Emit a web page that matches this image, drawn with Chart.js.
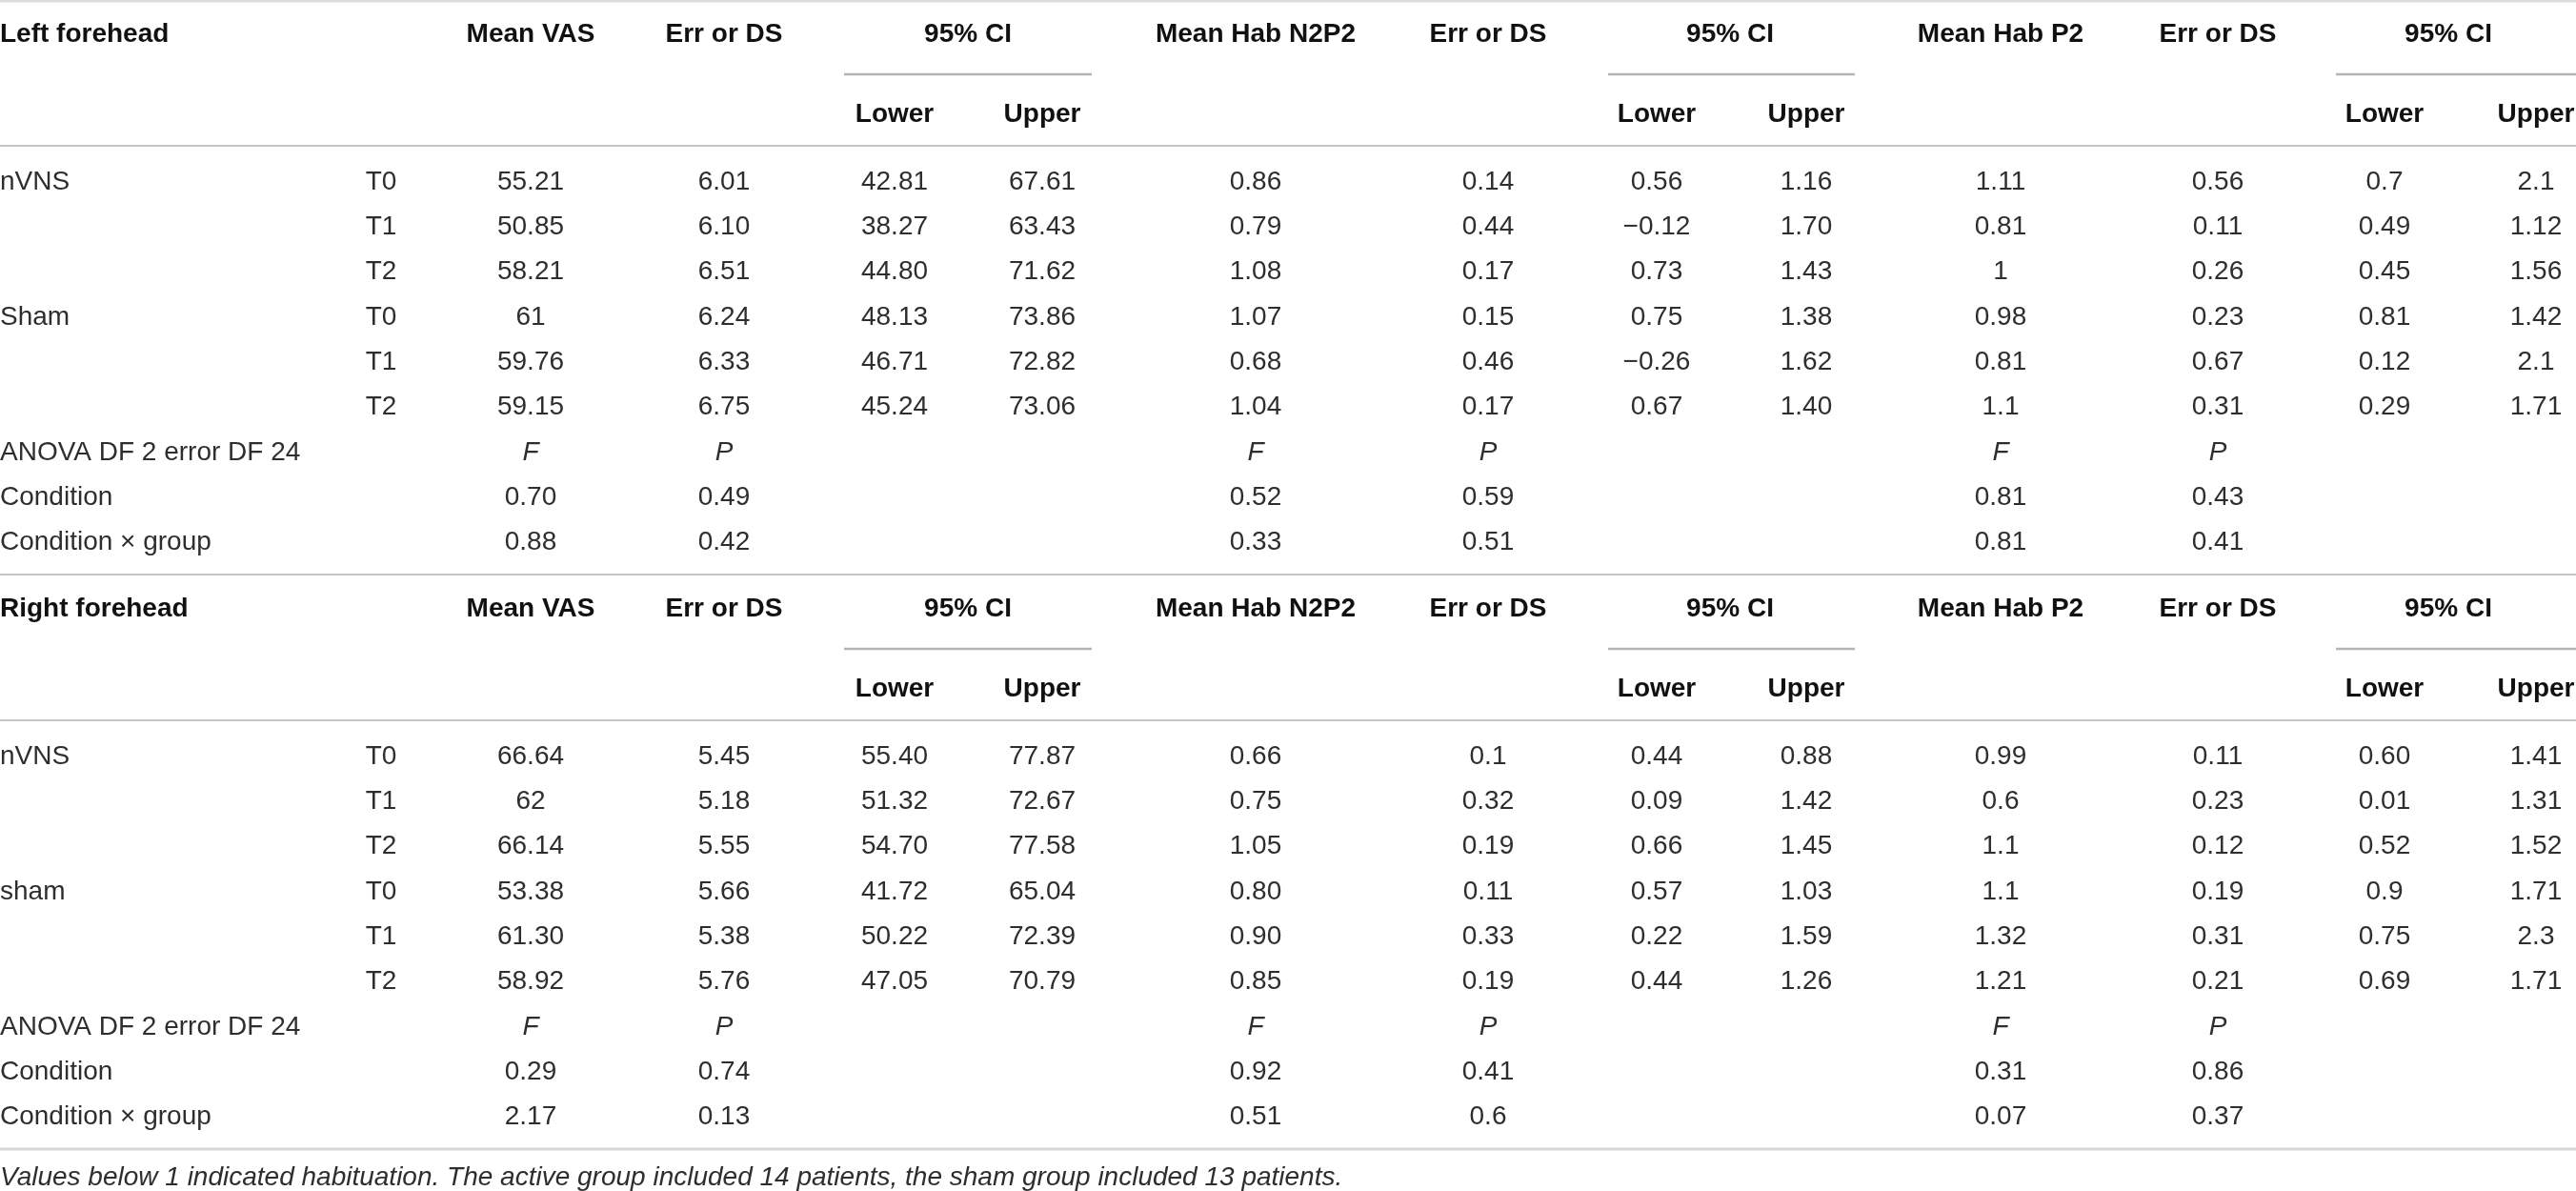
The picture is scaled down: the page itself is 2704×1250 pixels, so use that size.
<!DOCTYPE html>
<html>
<head>
<meta charset="utf-8">
<script src="https://cdn.jsdelivr.net/npm/chart.js@4.4.1/dist/chart.umd.min.js"></script>
<style>
  html, body { margin: 0; padding: 0; background: #fff; }
  #wrap { width: 2704px; height: 1250px; position: relative; }
</style>
</head>
<body>
<div id="wrap"><canvas id="tbl"></canvas></div>
<script>
// ---- table text / values ----
const sectionTitles = ['Left forehead', 'Right forehead'];
const measureTitles = ['Mean VAS', 'Mean Hab N2P2', 'Mean Hab P2'];
const groupLabels = [['nVNS', '', '', 'Sham', '', ''], ['nVNS', '', '', 'sham', '', '']];
const timeLabels = ['T0', 'T1', 'T2', 'T0', 'T1', 'T2'];
const anovaLabels = ['ANOVA DF 2 error DF 24', 'Condition', 'Condition × group'];
const footnote = 'Values below 1 indicated habituation. The active group included 14 patients, the sham group included 13 patients.';

// Left forehead
const leftVasMean  = ['55.21', '50.85', '58.21', '61', '59.76', '59.15'];
const leftVasErr   = ['6.01', '6.10', '6.51', '6.24', '6.33', '6.75'];
const leftVasLow   = ['42.81', '38.27', '44.80', '48.13', '46.71', '45.24'];
const leftVasUp    = ['67.61', '63.43', '71.62', '73.86', '72.82', '73.06'];
const leftN2P2Mean = ['0.86', '0.79', '1.08', '1.07', '0.68', '1.04'];
const leftN2P2Err  = ['0.14', '0.44', '0.17', '0.15', '0.46', '0.17'];
const leftN2P2Low  = ['0.56', '\u22120.12', '0.73', '0.75', '\u22120.26', '0.67'];
const leftN2P2Up   = ['1.16', '1.70', '1.43', '1.38', '1.62', '1.40'];
const leftP2Mean   = ['1.11', '0.81', '1', '0.98', '0.81', '1.1'];
const leftP2Err    = ['0.56', '0.11', '0.26', '0.23', '0.67', '0.31'];
const leftP2Low    = ['0.7', '0.49', '0.45', '0.81', '0.12', '0.29'];
const leftP2Up     = ['2.1', '1.12', '1.56', '1.42', '2.1', '1.71'];
const leftAnovaF   = [['0.70', '0.88'], ['0.52', '0.33'], ['0.81', '0.81']];
const leftAnovaP   = [['0.49', '0.42'], ['0.59', '0.51'], ['0.43', '0.41']];

// Right forehead
const rightVasMean  = ['66.64', '62', '66.14', '53.38', '61.30', '58.92'];
const rightVasErr   = ['5.45', '5.18', '5.55', '5.66', '5.38', '5.76'];
const rightVasLow   = ['55.40', '51.32', '54.70', '41.72', '50.22', '47.05'];
const rightVasUp    = ['77.87', '72.67', '77.58', '65.04', '72.39', '70.79'];
const rightN2P2Mean = ['0.66', '0.75', '1.05', '0.80', '0.90', '0.85'];
const rightN2P2Err  = ['0.1', '0.32', '0.19', '0.11', '0.33', '0.19'];
const rightN2P2Low  = ['0.44', '0.09', '0.66', '0.57', '0.22', '0.44'];
const rightN2P2Up   = ['0.88', '1.42', '1.45', '1.03', '1.59', '1.26'];
const rightP2Mean   = ['0.99', '0.6', '1.1', '1.1', '1.32', '1.21'];
const rightP2Err    = ['0.11', '0.23', '0.12', '0.19', '0.31', '0.21'];
const rightP2Low    = ['0.60', '0.01', '0.52', '0.9', '0.75', '0.69'];
const rightP2Up     = ['1.41', '1.31', '1.52', '1.71', '2.3', '1.71'];
const rightAnovaF   = [['0.29', '2.17'], ['0.92', '0.51'], ['0.31', '0.07']];
const rightAnovaP   = [['0.74', '0.13'], ['0.41', '0.6'], ['0.86', '0.37']];

// ---- layout (scale units = px of the picture) ----
const colTime = 400;
const colMean = [557, 1318, 2100];
const colErr  = [760, 1562, 2328];
const colLow  = [939, 1739, 2503];
const colUp   = [1094, 1896, 2662];
const colCI   = [1016, 1816, 2570];
const ciRule  = [[886, 1146], [1688, 1947], [2452, 2704]];
const sectionTop = [0, 603];
const rowHead = 36, rowSub = 120, rowFirst = 191, rowStep = 47.3;

const sectionData = [
  { vals: [[leftVasMean, leftVasErr, leftVasLow, leftVasUp], [leftN2P2Mean, leftN2P2Err, leftN2P2Low, leftN2P2Up], [leftP2Mean, leftP2Err, leftP2Low, leftP2Up]], F: leftAnovaF, P: leftAnovaP },
  { vals: [[rightVasMean, rightVasErr, rightVasLow, rightVasUp], [rightN2P2Mean, rightN2P2Err, rightN2P2Low, rightN2P2Up], [rightP2Mean, rightP2Err, rightP2Low, rightP2Up]], F: rightAnovaF, P: rightAnovaP }
];

function buildCells(s) {
  const top = sectionTop[s];
  const d = sectionData[s];
  const cells = [];
  const add = (x, y, t, st, al) => cells.push({ x: x, y: top + y, t: t, st: st, al: al || 'center' });
  add(0, rowHead, sectionTitles[s], 'b', 'left');
  measureTitles.forEach((m, k) => {
    add(colMean[k], rowHead, m, 'b');
    add(colErr[k], rowHead, 'Err or DS', 'b');
    add(colCI[k], rowHead, '95% CI', 'b');
    add(colLow[k], rowSub, 'Lower', 'b');
    add(colUp[k], rowSub, 'Upper', 'b');
  });
  timeLabels.forEach((tl, r) => {
    const y = rowFirst + r * rowStep;
    if (groupLabels[s][r]) add(0, y, groupLabels[s][r], 'r', 'left');
    add(colTime, y, tl, 'r');
    d.vals.forEach((v, k) => {
      add(colMean[k], y, v[0][r], 'r');
      add(colErr[k], y, v[1][r], 'r');
      add(colLow[k], y, v[2][r], 'r');
      add(colUp[k], y, v[3][r], 'r');
    });
  });
  anovaLabels.forEach((al, j) => {
    const y = rowFirst + (6 + j) * rowStep;
    add(0, y, al, 'r', 'left');
    measureTitles.forEach((m, k) => {
      if (j === 0) {
        add(colMean[k], y, 'F', 'i');
        add(colErr[k], y, 'P', 'i');
      } else {
        add(colMean[k], y, d.F[k][j - 1], 'r');
        add(colErr[k], y, d.P[k][j - 1], 'r');
      }
    });
  });
  return cells;
}

const fonts = {
  b: 'bold 28px "Liberation Sans", Arial, sans-serif',
  r: '28px "Liberation Sans", Arial, sans-serif',
  i: 'italic 28px "Liberation Sans", Arial, sans-serif'
};

const rulesPlugin = {
  id: 'rules',
  beforeDatasetsDraw(chart) {
    const { ctx, scales: { x, y } } = chart;
    const hline = (yv, x0, x1, col, w) => {
      ctx.beginPath();
      ctx.strokeStyle = col; ctx.lineWidth = w;
      const py = y.getPixelForValue(yv);
      ctx.moveTo(x.getPixelForValue(x0), py);
      ctx.lineTo(x.getPixelForValue(x1), py);
      ctx.stroke();
    };
    ctx.save();
    hline(1, 0, 2704, '#dcdcdc', 3);
    sectionTop.forEach((top, s) => {
      if (s > 0) hline(top, 0, 2704, '#c4c4c4', 2);
      ciRule.forEach(r => hline(top + 78, r[0], r[1], '#b4b4b4', 2.5));
      hline(top + 153, 0, 2704, '#c4c4c4', 2);
    });
    hline(1206, 0, 2704, '#d6d6d6', 3);
    ctx.restore();
  }
};

const textPlugin = {
  id: 'cellText',
  afterDatasetsDraw(chart) {
    const { ctx } = chart;
    ctx.save();
    ctx.textBaseline = 'middle';
    chart.data.datasets.forEach((ds, di) => {
      const meta = chart.getDatasetMeta(di);
      meta.data.forEach((pt, i) => {
        const c = ds.data[i];
        ctx.font = fonts[c.st];
        ctx.fillStyle = c.st === 'b' ? '#111' : '#2e2e2e';
        ctx.textAlign = c.al;
        ctx.fillText(c.t, pt.x, pt.y);
      });
    });
    ctx.restore();
  }
};

new Chart(document.getElementById('tbl'), {
  type: 'scatter',
  data: {
    datasets: [
      { data: buildCells(0), pointRadius: 0 },
      { data: buildCells(1), pointRadius: 0 },
      { data: [{ x: 0, y: 1236, t: footnote, st: 'i', al: 'left' }], pointRadius: 0 }
    ]
  },
  options: {
    responsive: true,
    maintainAspectRatio: false,
    animation: false,
    layout: { padding: 0 },
    plugins: { legend: { display: false }, tooltip: { enabled: false } },
    scales: {
      x: { type: 'linear', min: 0, max: 2704, display: false },
      y: { type: 'linear', min: 0, max: 1250, reverse: true, display: false }
    }
  },
  plugins: [rulesPlugin, textPlugin]
});
</script>
</body>
</html>
